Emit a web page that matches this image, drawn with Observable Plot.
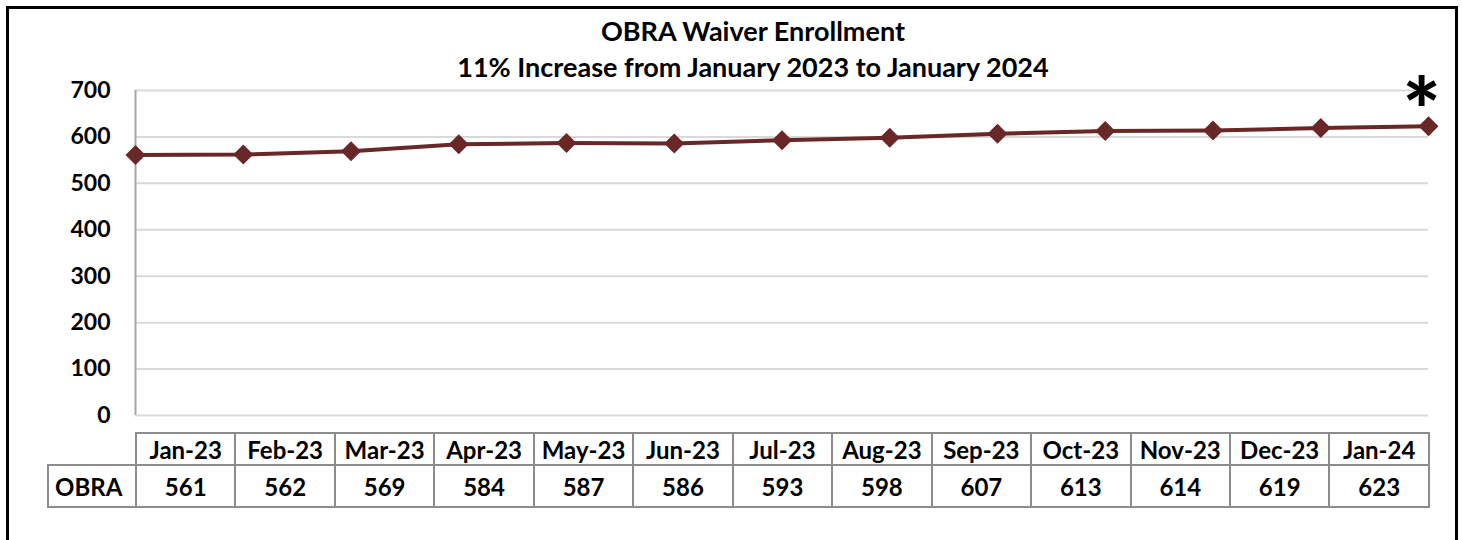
<!DOCTYPE html>
<html>
<head>
<meta charset="utf-8">
<script src="https://cdn.jsdelivr.net/npm/d3@7"></script>
<script src="https://cdn.jsdelivr.net/npm/@observablehq/plot@0.6"></script>
<style>
  html, body { margin: 0; padding: 0; background: #fff; }
  #wrap { position: relative; width: 1463px; height: 540px; overflow: hidden; font-family: Lato, "Open Sans", sans-serif; }
  #frame { position: absolute; left: 6px; top: 6px; width: 1446px; height: 600px; border: 3px solid #000; }
  #title { position: absolute; left: 353px; width: 800px; top: 13px; text-align: center; font-weight: bold; font-size: 27px; line-height: 36px; color: #000; }
  #chart { position: absolute; left: 0; top: 0; }
  #tbl { position: absolute; left: 47px; top: 432px; border-collapse: collapse; table-layout: fixed; width: 1383px; font-weight: bold; font-size: 24px; color: #000; }
  #tbl td { border: 2px solid #8c8c8c; text-align: center; padding: 0; }
  #tbl tr.h td { height: 30px; }
  #tbl tr.d td { height: 40px; }
  #tbl td.blank { border-top: none; border-left: none; }
  #tbl td.lab { text-align: left; padding-left: 6px; }
</style>
</head>
<body>
<div id="wrap">
  <div id="frame"></div>
  <div id="title"></div>
  <div id="chart"></div>
  <table id="tbl"></table>
</div>
<script>
const titleLines = ["OBRA Waiver Enrollment", "11% Increase from January 2023 to January 2024"];
const months = ["Jan-23","Feb-23","Mar-23","Apr-23","May-23","Jun-23","Jul-23","Aug-23","Sep-23","Oct-23","Nov-23","Dec-23","Jan-24"];
const values = [561,562,569,584,587,586,593,598,607,613,614,619,623];
const seriesName = "OBRA";
const yTicks = [0,100,200,300,400,500,600,700];
const marker = "*";

document.getElementById("title").innerHTML = titleLines.map(t => `<div>${t}</div>`).join("");

const data = months.map((m, i) => ({month: m, value: values[i]}));
const color = "#692727";

const chart = Plot.plot({
  width: 1463,
  height: 430,
  marginLeft: 135,
  marginRight: 35,
  marginTop: 90,
  marginBottom: 15,
  style: {fontFamily: "Lato, 'Open Sans', sans-serif", background: "transparent", overflow: "visible"},
  x: {type: "point", domain: months, padding: 0, round: false, axis: null},
  y: {domain: [0, 700], axis: null},
  marks: [
    Plot.gridY(yTicks, {stroke: "#d9d9d9", strokeOpacity: 1, strokeWidth: 2}),
    Plot.axisY(yTicks, {tickSize: 0, tickPadding: 25, fontSize: 23, fontWeight: "bold", fill: "#000", label: null, tickFormat: d => String(d)}),
    Plot.ruleX([months[0]], {stroke: "#a6a6a6", strokeWidth: 2}),
    Plot.line(data, {x: "month", y: "value", stroke: color, strokeWidth: 4}),
    Plot.dot(data, {x: "month", y: "value", symbol: "diamond2", r: 9, fill: color, stroke: "none"}),
    Plot.text([data[data.length - 1]], {x: "month", y: "value", text: () => marker, fontSize: 90, fontWeight: "900", fill: "#000", dx: -7, dy: -12})
  ]
});
document.getElementById("chart").appendChild(chart);

const tbl = document.getElementById("tbl");
let html = `<colgroup><col style="width:88px">${months.map(() => '<col>').join("")}</colgroup>`;
html += `<tr class="h"><td class="blank"></td>${months.map(m => `<td>${m}</td>`).join("")}</tr>`;
html += `<tr class="d"><td class="lab">${seriesName}</td>${values.map(v => `<td>${v}</td>`).join("")}</tr>`;
tbl.innerHTML = html;
</script>
</body>
</html>
